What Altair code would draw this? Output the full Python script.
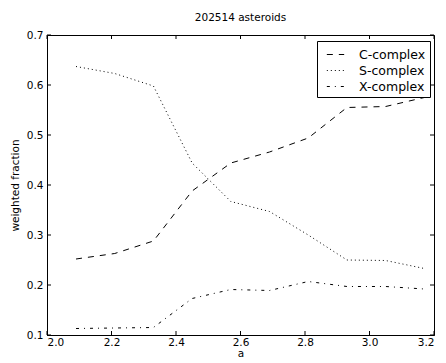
import altair as alt
import pandas as pd

# ---- data ----
a_vals = [2.09, 2.21, 2.33, 2.45, 2.57, 2.69, 2.81, 2.93, 3.05, 3.17]
c_complex = [0.252, 0.263, 0.288, 0.388, 0.444, 0.466, 0.494, 0.555, 0.557, 0.575]
s_complex = [0.637, 0.623, 0.598, 0.444, 0.367, 0.347, 0.300, 0.250, 0.249, 0.233]
x_complex = [0.113, 0.114, 0.115, 0.173, 0.191, 0.189, 0.207, 0.197, 0.197, 0.192]
series_names = ["C-complex", "S-complex", "X-complex"]
x_ticks = [2.0, 2.2, 2.4, 2.6, 2.8, 3.0, 3.2]
y_ticks = [0.1, 0.2, 0.3, 0.4, 0.5, 0.6, 0.7]

rows = []
for name, vals in zip(series_names, [c_complex, s_complex, x_complex]):
    for a, v in zip(a_vals, vals):
        rows.append({"a": a, "frac": v, "series": name})
df = pd.DataFrame(rows)
xt = pd.DataFrame({"a": x_ticks})
yt = pd.DataFrame({"frac": y_ticks})

W, H = 387, 300
FONT = "DejaVu Sans"
xscale = alt.Scale(domain=[2.0, 3.2], nice=False, zero=False)
yscale = alt.Scale(domain=[0.1, 0.7], nice=False, zero=False)
xaxis = alt.Axis(title="a", values=x_ticks, format=".1f", ticks=False,
                 labelPadding=2, titlePadding=1, grid=False)
yaxis = alt.Axis(title="weighted fraction", values=y_ticks, format=".1f",
                 ticks=False, labelPadding=4, titlePadding=6, grid=False)

lines = alt.Chart(df).mark_line(color="black", strokeWidth=1).encode(
    x=alt.X("a:Q", scale=xscale, axis=xaxis),
    y=alt.Y("frac:Q", scale=yscale, axis=yaxis),
    strokeDash=alt.StrokeDash(
        "series:N",
        scale=alt.Scale(domain=series_names, range=[[6, 6], [1, 3], [3, 5, 1, 5]]),
        legend=alt.Legend(title=None),
    ),
    order=alt.Order("a:Q"),
)

tick_bottom = alt.Chart(xt).mark_rule(color="black", strokeWidth=1).encode(
    x=alt.X("a:Q", scale=xscale, axis=xaxis), y=alt.value(H), y2=alt.value(H - 4))
tick_top = alt.Chart(xt).mark_rule(color="black", strokeWidth=1).encode(
    x=alt.X("a:Q", scale=xscale, axis=xaxis), y=alt.value(0), y2=alt.value(4))
tick_left = alt.Chart(yt).mark_rule(color="black", strokeWidth=1).encode(
    y=alt.Y("frac:Q", scale=yscale, axis=yaxis), x=alt.value(0), x2=alt.value(4))
tick_right = alt.Chart(yt).mark_rule(color="black", strokeWidth=1).encode(
    y=alt.Y("frac:Q", scale=yscale, axis=yaxis), x=alt.value(W - 4), x2=alt.value(W))

chart = alt.layer(lines, tick_bottom, tick_top, tick_left, tick_right).properties(
    width=W, height=H,
    title=alt.Title("202514 asteroids", font=FONT, fontSize=10.5, fontWeight="normal",
                    color="black", offset=7),
    autosize=alt.AutoSizeParams(type="none"),
    padding={"left": 39, "top": 27, "right": 4, "bottom": 24},
).configure_view(stroke="black", strokeWidth=1).configure_axis(
    domainColor="black", domainWidth=1, labelColor="black", titleColor="black",
    labelFont=FONT, titleFont=FONT, labelFontSize=10.5, titleFontSize=10.5,
    titleFontWeight="normal",
).configure_legend(
    orient="none", legendX=270, legendY=6,
    strokeColor="black", fillColor="white", padding=4,
    labelFont=FONT, labelFontSize=12.5, labelColor="black", labelOffset=14,
    symbolType="stroke", symbolSize=300, symbolStrokeWidth=1, symbolOffset=5,
    symbolStrokeColor="black", rowPadding=0, cornerRadius=0,
)

chart.save("out.html", embed_options={"renderer": "svg", "actions": False})
